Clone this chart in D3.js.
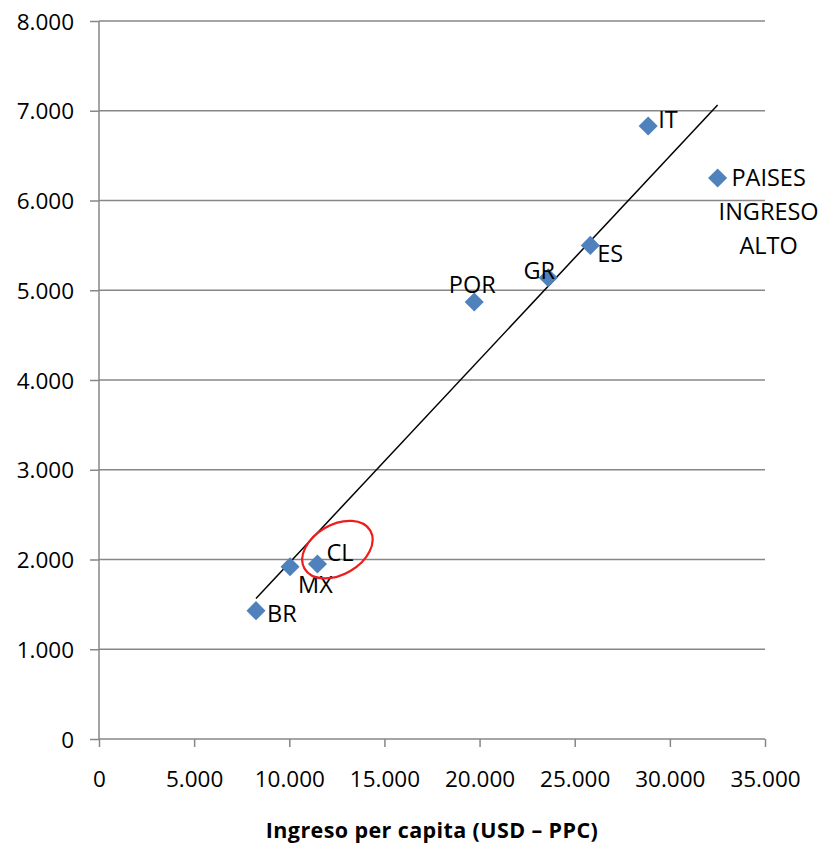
<!DOCTYPE html>
<html>
<head>
<meta charset="utf-8">
<script src="https://cdn.jsdelivr.net/npm/d3@7"></script>
<style>
	body { margin: 0; background: #fff; }
	svg { display: block; }
	.tick-label { font-family: "Open Sans", sans-serif; font-size: 22.5px; fill: #000; }
	.pt-label { font-family: "Open Sans", sans-serif; font-size: 23.5px; fill: #000; }
	.axis-title { font-family: "Open Sans", sans-serif; font-size: 21.5px; font-weight: bold; fill: #000; letter-spacing: 0.4px; }
</style>
</head>
<body>
<div id="chart"></div>
<script>
// Data
var countries = ["BR", "MX", "CL", "POR", "GR", "ES", "IT", "PAISES INGRESO ALTO"];
var incomes = [8250, 10040, 11480, 19720, 23610, 25820, 28860, 32510];
var values = [1430, 1920, 1950, 4870, 5140, 5500, 6830, 6250];

var xTicks = [0, 5000, 10000, 15000, 20000, 25000, 30000, 35000];
var yTicks = [0, 1000, 2000, 3000, 4000, 5000, 6000, 7000, 8000];
var xTitle = "Ingreso per capita (USD \u2013 PPC)";

// red ellipse round CL, in data units
var highlight = {x: 12530, y: 2110};

var width = 823, height = 846;
var margin = {top: 21, right: 58, bottom: 107, left: 99};

var svg = d3.select("#chart")
	.append("svg")
	.attr("width", width)
	.attr("height", height);

var xScale = d3.scaleLinear()
	.domain([0, 35000])
	.range([margin.left, width - margin.right]);
var yScale = d3.scaleLinear()
	.domain([0, 8000])
	.range([height - margin.bottom, margin.top]);

var locale = d3.formatLocale({decimal: ",", thousands: ".", grouping: [3], currency: ["", ""]});
var fmt = locale.format(",d");

var gridColor = "#878787";

//Gridlines
svg.append("g")
	.selectAll("line")
	.data(yTicks.slice(1))
	.enter().append("line")
	.attr("x1", xScale(0))
	.attr("x2", xScale(35000))
	.attr("y1", function(d){ return yScale(d); })
	.attr("y2", function(d){ return yScale(d); })
	.attr("stroke", gridColor)
	.attr("stroke-width", 1.5);

//Axes
var yAxis = d3.axisLeft(yScale).tickValues(yTicks).tickSize(9).tickFormat(fmt);
var xAxis = d3.axisBottom(xScale).tickValues(xTicks).tickSize(8).tickFormat(fmt);

var gy = svg.append("g")
	.attr("transform", "translate(" + xScale(0) + ",0)")
	.call(yAxis);
var gx = svg.append("g")
	.attr("transform", "translate(0," + yScale(0) + ")")
	.call(xAxis);

[gx, gy].forEach(function(g){
	g.select(".domain").attr("stroke", gridColor).attr("stroke-width", 1.5);
	g.selectAll(".tick line").attr("stroke", gridColor).attr("stroke-width", 1.5);
	g.selectAll(".tick text").attr("class", "tick-label").attr("font-size", null).attr("font-family", null);
});
gx.select(".domain").attr("d", "M" + xScale(0) + ",0H" + xScale(35000));
gy.select(".domain").attr("d", "M0," + yScale(0) + "V" + yScale(8000));
gy.selectAll(".tick text").attr("x", -25).attr("dy", "0.36em");
gx.selectAll(".tick text").attr("y", 32).attr("dy", "0.71em");

//Trend line (least squares)
var mx = d3.mean(incomes), my = d3.mean(values);
var sxy = d3.sum(incomes, function(d, i){ return (d - mx) * (values[i] - my); });
var sxx = d3.sum(incomes, function(d){ return (d - mx) * (d - mx); });
var slope = sxy / sxx, intercept = my - slope * mx;
var ext = d3.extent(incomes);

svg.append("line")
	.attr("x1", xScale(ext[0]))
	.attr("y1", yScale(intercept + slope * ext[0]))
	.attr("x2", xScale(ext[1]))
	.attr("y2", yScale(intercept + slope * ext[1]))
	.attr("stroke", "#000")
	.attr("stroke-width", 1.5);

//Markers
var points = countries.map(function(c, i){ return {name: c, x: incomes[i], y: values[i]}; });

svg.append("g")
	.selectAll("path")
	.data(points)
	.enter().append("path")
	.attr("d", d3.symbol().type(d3.symbolSquare).size(182))
	.attr("transform", function(d){
		return "translate(" + xScale(d.x) + "," + yScale(d.y) + ")rotate(45)";
	})
	.attr("fill", "#4F81BD");

//Labels (offsets from the marker, in px)
var labelPos = {
	"BR": {dx: 11, dy: 11, anchor: "start"},
	"MX": {dx: 8, dy: 26, anchor: "start"},
	"CL": {dx: 9, dy: -3, anchor: "start"},
	"POR": {dx: -2, dy: -9, anchor: "middle"},
	"GR": {dx: -9, dy: 1, anchor: "middle"},
	"ES": {dx: 7, dy: 17, anchor: "start"},
	"IT": {dx: 10, dy: 2, anchor: "start"},
	"PAISES INGRESO ALTO": {dx: 51, dy: 8, anchor: "middle", lineHeight: 34}
};

var labels = svg.append("g")
	.selectAll("text")
	.data(points)
	.enter().append("text")
	.attr("class", "pt-label")
	.attr("text-anchor", function(d){ return labelPos[d.name].anchor; })
	.attr("x", function(d){ return xScale(d.x) + labelPos[d.name].dx; })
	.attr("y", function(d){ return yScale(d.y) + labelPos[d.name].dy; });

labels.each(function(d){
	var p = labelPos[d.name];
	var words = p.lineHeight ? d.name.split(" ") : [d.name];
	var el = d3.select(this);
	words.forEach(function(w, i){
		el.append("tspan")
			.attr("x", xScale(d.x) + p.dx)
			.attr("dy", i === 0 ? 0 : p.lineHeight)
			.text(w);
	});
});

//Red ellipse
svg.append("ellipse")
	.attr("cx", 0).attr("cy", 0)
	.attr("rx", 38).attr("ry", 25)
	.attr("transform", "translate(" + xScale(highlight.x) + "," + yScale(highlight.y) + ")rotate(-30)")
	.attr("fill", "none")
	.attr("stroke", "#EE1C1C")
	.attr("stroke-width", 2.2);

//Axis title
svg.append("text")
	.attr("class", "axis-title")
	.attr("text-anchor", "middle")
	.attr("x", (xScale(0) + xScale(35000)) / 2)
	.attr("y", 838)
	.text(xTitle);
</script>
</body>
</html>
